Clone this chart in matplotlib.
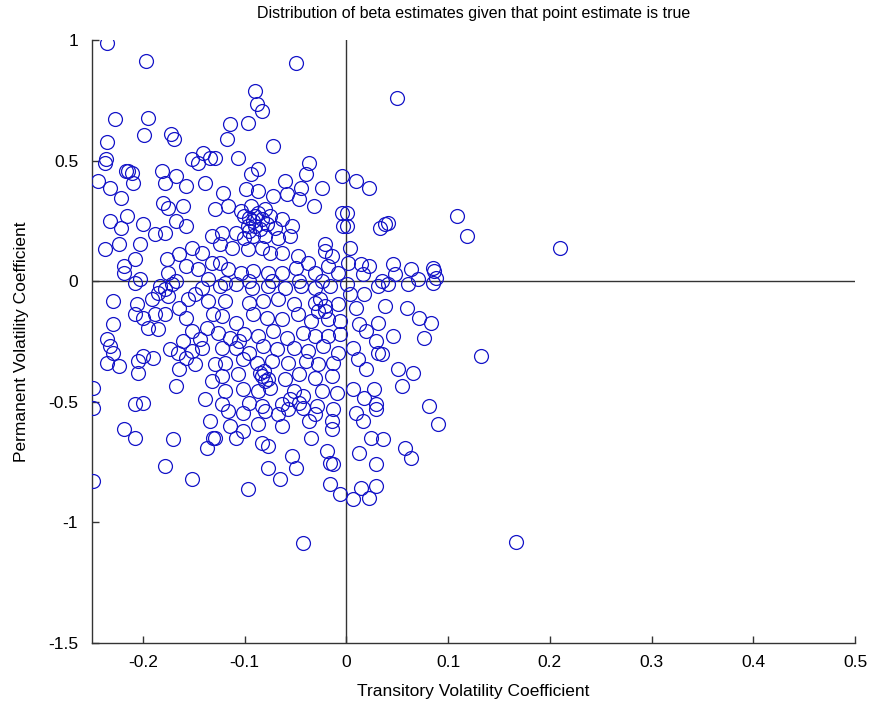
import matplotlib
matplotlib.use("Agg")
import matplotlib.pyplot as plt
import numpy as np

plt.rcParams['font.family'] = ['Liberation Sans', 'DejaVu Sans']

# Transitory (x) and permanent (y) volatility coefficient estimates
transitory = [
    -0.235, -0.197, -0.227, -0.195, -0.199, -0.172, -0.169, -0.235, -0.236, -0.152, -0.141, -0.134,
    -0.050, -0.090, -0.088, -0.083, -0.114, -0.097, -0.117, -0.072, -0.107, -0.037, -0.129,
    0.050,
    -0.237, -0.217, -0.215, -0.211, -0.244, -0.232, -0.222, -0.210, -0.181, -0.168, -0.158, -0.178,
    -0.180, -0.161, -0.175, -0.146, -0.139, -0.232, -0.216, -0.222, -0.200, -0.188, -0.203, -0.168,
    -0.158, -0.178, -0.237, -0.224, -0.208, -0.219, -0.176, -0.165, -0.152, -0.142, -0.132, -0.219,
    -0.203, -0.175, -0.158, -0.146, -0.132, -0.168, -0.136,
    -0.087, -0.094, -0.040, -0.060, -0.045, -0.024, -0.004, -0.121, -0.099, -0.087, -0.072, -0.058,
    -0.047, -0.032, -0.129, -0.116, -0.104, -0.096, -0.087, -0.080, -0.097, -0.090, -0.078, -0.070,
    -0.063, -0.053, -0.055, -0.067, -0.080, -0.092, -0.101, -0.109, -0.122, -0.124, -0.112, -0.097,
    -0.083, -0.075, -0.063, -0.048, -0.038, -0.021, -0.021, -0.014, -0.004, -0.003, -0.124, -0.116,
    -0.104, -0.092, -0.077, -0.063, -0.050, -0.031, -0.018, -0.008, -0.119, -0.096, -0.073, -0.047,
    -0.024,
    0.009, 0.022, 0.001, 0.001, 0.033, 0.038, 0.041, 0.109, 0.119, 0.004, 0.014, 0.022, 0.046, 0.063,
    0.085, 0.086, 0.016, 0.048, 0.070, 0.088, 0.035, 0.002,
    -0.208, -0.229, -0.206, -0.183, -0.171, -0.175, -0.191, -0.208, -0.200, -0.188, -0.178, -0.165,
    -0.158, -0.195, -0.185, -0.229, -0.235, -0.232, -0.229, -0.235, -0.224, -0.205, -0.200, -0.190,
    -0.205, -0.173, -0.166, -0.158, -0.152, -0.161, -0.152, -0.144, -0.142, -0.168, -0.249, -0.208,
    -0.200, -0.249, -0.139, -0.132, -0.129, -0.149, -0.136, -0.142, -0.156, -0.131, -0.137, -0.165,
    -0.149,
    -0.124, -0.109, -0.093, -0.077, -0.060, -0.045, -0.031, -0.016, -0.119, -0.096, -0.082, -0.067,
    -0.052, -0.031, -0.021, -0.008, -0.122, -0.109, -0.092, -0.078, -0.063, -0.048, -0.035, -0.018,
    -0.006, -0.126, -0.114, -0.101, -0.087, -0.072, -0.058, -0.043, -0.031, -0.018, -0.006, -0.122,
    -0.109, -0.096, -0.082, -0.068, -0.052, -0.038, -0.023, -0.008, -0.119, -0.102, -0.088, -0.073,
    -0.057, -0.040, -0.028, -0.013, -0.122, -0.107, -0.083, -0.080, -0.060, -0.047, -0.031, -0.014,
    -0.119, -0.102, -0.087, -0.075, -0.052, -0.043, -0.024, -0.009, -0.122, -0.096, -0.083, -0.063,
    -0.047, -0.029,
    0.004, 0.017, 0.009, 0.038, 0.060, 0.071, 0.083, 0.076, 0.031, 0.046, 0.012, 0.019, 0.029, 0.031,
    0.035, 0.006, 0.011, 0.019, 0.051, 0.065, 0.055, 0.006, 0.027, 0.017, 0.029, 0.081, 0.132, 0.001,
    0.041, 0.061, 0.085, 0.031,
    -0.219, -0.208, -0.170, -0.134, -0.131, -0.137, -0.178, -0.152, -0.249,
    -0.116, -0.102, -0.080, -0.067, -0.043, -0.031, -0.013, -0.114, -0.102, -0.087, -0.063, -0.037,
    -0.014, -0.014, -0.129, -0.109, -0.083, -0.077, -0.035, -0.053, -0.050, -0.019, -0.016, -0.013,
    -0.077, -0.065, -0.016, -0.006, -0.097, -0.043,
    0.009, 0.016, 0.029, 0.090, 0.024, 0.036, 0.012, 0.058, 0.063, 0.029, 0.014, 0.029, 0.022, 0.006,
    0.210, 0.167,
    -0.094, -0.090, -0.083, -0.092, -0.085, -0.101, -0.075, -0.096, -0.085, -0.077, -0.081, -0.026,
    -0.021, -0.028, -0.178, -0.185, -0.106, -0.055, -0.057,
]

permanent = [
    0.988, 0.913, 0.672, 0.676, 0.606, 0.610, 0.589, 0.577, 0.506, 0.506, 0.531, 0.510,
    0.905, 0.788, 0.734, 0.705, 0.651, 0.656, 0.589, 0.560, 0.510, 0.490, 0.510,
    0.759,
    0.490, 0.456, 0.456, 0.448, 0.415, 0.386, 0.344, 0.407, 0.456, 0.436, 0.394, 0.407,
    0.324, 0.311, 0.303, 0.490, 0.407, 0.249, 0.270, 0.220, 0.237, 0.195, 0.154, 0.249,
    0.228, 0.199, 0.133, 0.154, 0.091, 0.062, 0.091, 0.112, 0.137, 0.116, 0.187, 0.033,
    0.008, 0.033, 0.062, 0.050, 0.075, 0.000, 0.008,
    0.465, 0.444, 0.444, 0.415, 0.386, 0.386, 0.436, 0.365, 0.382, 0.373, 0.353, 0.361,
    0.340, 0.311, 0.299, 0.311, 0.290, 0.261, 0.282, 0.299, 0.228, 0.228, 0.237, 0.220,
    0.257, 0.228, 0.187, 0.178, 0.187, 0.187, 0.178, 0.199, 0.199, 0.154, 0.137, 0.133,
    0.137, 0.116, 0.116, 0.104, 0.075, 0.154, 0.124, 0.104, 0.282, 0.228, 0.075, 0.050,
    0.033, 0.041, 0.033, 0.033, 0.054, 0.033, 0.062, 0.033, -0.008, 0.000, 0.000, 0.000,
    0.000,
    0.415, 0.386, 0.282, 0.228, 0.220, 0.237, 0.241, 0.270, 0.187, 0.137, 0.071, 0.062, 0.071, 0.050,
    0.054, 0.041, 0.029, 0.029, 0.008, 0.012, 0.000, 0.075,
    -0.008, -0.083, -0.095, -0.021, -0.012, -0.062, -0.075, -0.137, -0.154, -0.137, -0.137, -0.112,
    -0.154, -0.195, -0.199, -0.178, -0.241, -0.270, -0.299, -0.340, -0.353, -0.332, -0.311, -0.320,
    -0.382, -0.282, -0.299, -0.320, -0.290, -0.249, -0.207, -0.241, -0.278, -0.436, -0.444, -0.510,
    -0.506, -0.527, -0.490, -0.415, -0.344, -0.054, -0.083, -0.029, -0.075, -0.137, -0.195, -0.365,
    -0.344,
    -0.021, -0.012, -0.029, -0.021, -0.029, -0.021, -0.029, -0.021, -0.083, -0.091, -0.083, -0.075,
    -0.095, -0.091, -0.104, -0.095, -0.145, -0.174, -0.137, -0.154, -0.158, -0.137, -0.166, -0.158,
    -0.166, -0.216, -0.237, -0.220, -0.228, -0.207, -0.237, -0.216, -0.228, -0.228, -0.220, -0.278,
    -0.278, -0.299, -0.270, -0.282, -0.278, -0.290, -0.270, -0.299, -0.340, -0.324, -0.340, -0.332,
    -0.340, -0.332, -0.344, -0.340, -0.394, -0.386, -0.394, -0.415, -0.407, -0.386, -0.402, -0.394,
    -0.456, -0.448, -0.456, -0.444, -0.456, -0.477, -0.456, -0.465, -0.510, -0.506, -0.519, -0.510,
    -0.506, -0.519,
    -0.054, -0.054, -0.112, -0.104, -0.112, -0.154, -0.174, -0.237, -0.174, -0.228, -0.178, -0.207,
    -0.249, -0.299, -0.303, -0.278, -0.324, -0.365, -0.365, -0.382, -0.436, -0.448, -0.448, -0.485,
    -0.510, -0.519, -0.311, -0.012, -0.012, -0.012, -0.008, -0.021,
    -0.614, -0.651, -0.656, -0.581, -0.651, -0.693, -0.768, -0.822, -0.830,
    -0.539, -0.548, -0.539, -0.552, -0.527, -0.552, -0.531, -0.602, -0.622, -0.593, -0.602, -0.581,
    -0.581, -0.614, -0.651, -0.651, -0.672, -0.685, -0.651, -0.726, -0.776, -0.705, -0.755, -0.759,
    -0.776, -0.822, -0.842, -0.884, -0.863, -1.087,
    -0.548, -0.581, -0.531, -0.593, -0.651, -0.656, -0.714, -0.693, -0.734, -0.759, -0.859, -0.851,
    -0.900, -0.905,
    0.137, -1.083,
    0.311, 0.270, 0.257, 0.249, 0.216, 0.270, 0.270, 0.207, -0.382, -0.407, -0.373, -0.075,
    -0.124, -0.124, -0.033, -0.050, -0.249, -0.490, -0.531,
]

title = "Distribution of beta estimates given that point estimate is true"
xlabel = "Transitory Volatility Coefficient"
ylabel = "Permanent Volatility Coefficient"
xticks = [-0.2, -0.1, 0, 0.1, 0.2, 0.3, 0.4, 0.5]
xticklabels = ["-0.2", "-0.1", "0", "0.1", "0.2", "0.3", "0.4", "0.5"]
yticks = [-1.5, -1, -0.5, 0, 0.5, 1]
yticklabels = ["-1.5", "-1", "-0.5", "0", "0.5", "1"]

fig = plt.figure(figsize=(8.77, 7.15), dpi=100)
ax = fig.add_axes([0.105, 0.101, 0.870, 0.843])

ax.plot(transitory, permanent, linestyle='none', marker='o', markersize=10,
        markerfacecolor='none', markeredgecolor='#1414c8', markeredgewidth=0.9, zorder=3)

ax.axhline(0, color='#333333', linewidth=1.0, zorder=2)
ax.axvline(0, color='#333333', linewidth=1.0, zorder=2)

ax.set_xlim(-0.25, 0.5)
ax.set_ylim(-1.5, 1.0)
ax.set_xticks(xticks)
ax.set_xticklabels(xticklabels)
ax.set_yticks(yticks)
ax.set_yticklabels(yticklabels)

for side in ['top', 'right']:
    ax.spines[side].set_visible(False)
for side in ['left', 'bottom']:
    ax.spines[side].set_color('#333333')
    ax.spines[side].set_linewidth(1.0)

ax.tick_params(direction='in', length=5, width=1.0, colors='#333333', labelsize=12.5,
               labelcolor='black')
ax.tick_params(axis='x', pad=9)
ax.tick_params(axis='y', pad=10)

ax.set_title(title, fontsize=11.5, pad=16)
ax.set_xlabel(xlabel, fontsize=12.5, labelpad=10)
ax.set_ylabel(ylabel, fontsize=12.5, labelpad=14)

fig.savefig("out.png", dpi=100)
